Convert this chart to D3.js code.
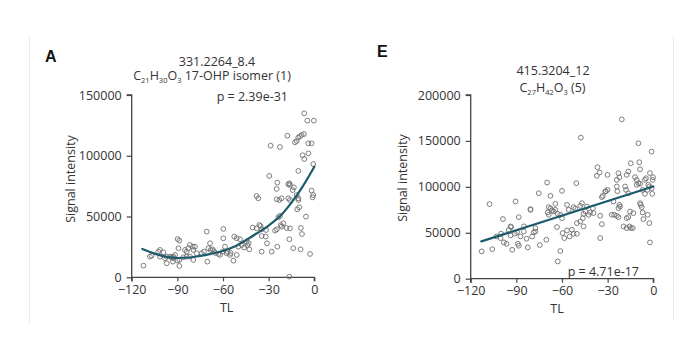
<!DOCTYPE html>
<html><head><meta charset="utf-8">
<script src="https://cdn.jsdelivr.net/npm/d3@7"></script>
<style>
body{margin:0;background:#fff;}
svg{display:block;font-family:"Open Sans",sans-serif;}
</style></head>
<body><svg id="c" width="700" height="363"></svg>
<script>
// ---------- data ----------
const xTicks = [-120, -90, -60, -30, 0];
const leftYTicks = [0, 50000, 100000, 150000];
const rightYTicks = [0, 50000, 100000, 150000, 200000];

// Panel A: 331.2264_8.4
const leftTL = [-6.6,-4.6,-0.3,-17.7,-9.4,-10.5,-8.3,-6.8,-12.7,-11.6,-3.9,-1.8,-28.7,-22.6,-7.7,-6.6,-3.9,-0.7,-10.5,-29.6,-24.3,-16.4,-16,-17.1,-24.7,-14.2,-13.4,-11.6,-10.5,-1.8,-0.7,-1.1,-37.9,-36.8,-24.7,-23,-21.5,-10.5,-17.1,-16,-5.5,-11.2,-9.9,-23.6,-22.6,-20.4,-21.5,-22.1,-25.8,-24.7,-18.2,-16,-8.8,-8.1,-36.1,-37.9,-35.3,-34.6,-31.7,-40.5,-34.6,-32,-43.1,-44,-42.7,-44.5,-34.6,-31.1,-28,-24.3,-16.4,-13.8,-9,-2.8,-16.4,-52.6,-51,-48.8,-59.8,-59.8,-58.7,-60.2,-57.6,-55.4,-63.1,-53.2,-51,-49.9,-47.7,-70.7,-68.5,-69.6,-68.1,-66.8,-70.3,-74,-72.5,-89.8,-88.7,-89.3,-85,-83.9,-82.8,-81.7,-79.9,-78.4,-79.5,-77.3,-86.1,-83.9,-81.7,-79.5,-90,-88.7,-93,-88.7,-93.7,-92.6,-94.8,-98.1,-97,-99.2,-101.4,-102.5,-106.9,-108,-112.3,-97,-101.4,-92.6,-91.5,-65,-62,-57,-55,-66,-46];
const leftSignal = [134900,128900,128900,116500,116000,115000,117100,117900,111100,112100,110200,110200,108300,107200,100400,97300,102000,93200,87500,83400,77900,77300,76000,76500,72700,71800,74000,67700,65000,71300,67700,65800,66900,65000,64200,63600,65000,63600,65000,63600,49900,55900,57600,49400,50500,44400,41700,43000,38400,39500,40600,40300,40600,35600,43000,40300,42200,39500,38900,40900,34000,33500,28000,26300,23000,29300,21100,28000,21100,25200,31300,23900,23000,19200,550,33500,32100,31300,39800,32100,25200,21100,19700,18400,19200,13700,18400,25200,26600,37600,28000,23900,22500,23000,12900,19700,21100,31500,30200,23900,22500,21100,23900,26600,25200,25200,22500,19700,16500,17000,17000,14300,13700,14300,12900,9300,16500,15600,17000,15600,17000,20600,22500,21100,17800,17000,9600,11500,17000,17000,18400,20000,18500,21000,20000,21500,24500];
const leftFitTL = [-113,-105,-97,-90,-82,-75,-68,-60,-52,-45,-38,-30,-22,-15,-8,0];
const leftFitSignal = [23300,19500,16800,15900,16300,17600,19300,21600,25500,30500,36000,42600,51000,61500,74000,91000];

// Panel E: 415.3204_12
const rightTL = [-112.8,-107.6,-105.8,-98.8,-100.4,-98.2,-96.4,-93.8,-93.8,-90.5,-88.4,-93.4,-89.5,-87.3,-89,-88.4,-92.7,-85.1,-83.3,-82.5,-80.7,-80.7,-78.5,-77.5,-79.6,-77.5,-74.6,-70.3,-68.7,-69.8,-75.3,-67.6,-69.4,-67.6,-66.5,-68.7,-65.5,-64.4,-62.8,-64.4,-63.3,-61.1,-62.8,-60,-60,-61.1,-58.5,-59.6,-56.7,-55,-53.5,-52.4,-50.2,-56.7,-55.6,-50.6,-52.4,-51.3,-47.6,-50.2,-48,-45.8,-46.3,-45.8,-44.7,-43.6,-46.9,-48,-42.5,-41.5,-37.1,-36.7,-35.3,-39.3,-39.7,-34.9,-33.8,-33.8,-33.2,-31.2,-30.1,-31.6,-34.9,-30.1,-27.3,-25.7,-24,-22.9,-26.2,-24,-22.9,-22.3,-24,-23.6,-20.7,-22.3,-21.8,-22.9,-19.6,-17.5,-18.5,-17.5,-16.4,-17.9,-16.4,-17.5,-16.4,-15.7,-14.8,-13.5,-15.3,-13.1,-10.9,-9.8,-8.7,-9.8,-8.7,-9.2,-8.7,-8.3,-7.6,-7,-6.5,-7,-5.5,-2.2,-2.6,-1.1,-3.7,-2.6,-2.2,-1.1,-0.7,-0.2,-0.4,-3.9,-3.3,-4.8,-5.5,-14.8,-12,-10.9,-103,-100,-95,-91,-85];
const rightSignal = [29700,81200,32200,64900,44200,39500,38000,47100,56900,84100,67000,56200,50700,46000,38000,35900,31500,51400,43500,34100,75000,75700,50400,51400,46000,55100,36600,42400,69600,104700,93100,90200,72100,76400,74300,77900,73200,75000,70600,81500,56200,30100,18800,95600,65900,69600,44200,49600,52500,46000,53300,48900,48900,80400,75000,104000,77900,76400,153600,60500,62300,56900,65900,70600,73200,78600,82200,79300,69600,72100,112000,121400,115600,71400,76800,44200,59400,88800,90200,95300,96700,94900,68500,113000,69600,69600,68500,67000,84100,107600,114800,110500,100400,95300,173500,80400,78600,76800,56900,55100,100400,113000,116700,96700,93100,65900,67000,56900,55100,55100,73200,71400,102200,104000,103300,147500,119200,126800,82200,80400,77900,72100,64900,96700,92400,115000,100400,98500,69600,60500,39500,138400,92400,110500,107600,96700,102200,109400,107600,125700,110500,107600,46000,49000,53000,49000,57000];
const rightFitTL = [-113, 0];
const rightFitSignal = [40600, 100400];

// ---------- drawing ----------
const svg = d3.select("#c");
const textCol = "#333";
const axisCol = "#444";

// faint frame lines
svg.append("line").attr("x1",29.5).attr("x2",29.5).attr("y1",36).attr("y2",324)
  .attr("stroke","#ececec").attr("stroke-width",1);
svg.append("line").attr("x1",673.5).attr("x2",673.5).attr("y1",36).attr("y2",320)
  .attr("stroke","#ececec").attr("stroke-width",1);

function panel(o){
  const x = d3.scaleLinear().domain([-120,0]).range([o.x0, o.x1]);
  const y = d3.scaleLinear().domain([0, o.yMax]).range([o.y0, o.y1]);
  const g = svg.append("g");

  // axes
  const ax = g.append("g").attr("transform",`translate(0,${o.y0})`)
    .call(d3.axisBottom(x).tickValues(xTicks).tickSize(4).tickPadding(2).tickFormat(d3.format("d")));
  const ay = g.append("g").attr("transform",`translate(${o.x0},0)`)
    .call(d3.axisLeft(y).tickValues(o.yTicks).tickSize(5).tickPadding(5).tickFormat(d3.format("d")));
  [ax, ay].forEach(a=>{
    a.select(".domain").attr("stroke",axisCol).attr("stroke-width",1.3);
    a.selectAll(".tick line").attr("stroke",axisCol).attr("stroke-width",1.2);
    a.selectAll(".tick text").attr("fill",textCol).style("font-size","12.5px")
      .style("font-family","'Open Sans',sans-serif");
  });
  ax.select(".domain").attr("d",`M${o.x0},4V0H${o.x1}V4`);
  ay.select(".domain").attr("d",`M-5,${o.y1}H0V${o.y0}`);
  ax.selectAll(".tick text").attr("dy","0.85em");

  // points
  g.append("g").selectAll("circle").data(o.tl.map((t,i)=>[t,o.sig[i]])).join("circle")
    .attr("cx",d=>x(d[0])).attr("cy",d=>y(d[1])).attr("r",2.4)
    .attr("fill","none").attr("stroke","#6f6f6f").attr("stroke-width",0.9);

  // fit line
  const line = d3.line().x(d=>x(d[0])).y(d=>y(d[1])).curve(d3.curveMonotoneX);
  g.append("path").datum(o.fitX.map((t,i)=>[t,o.fitY[i]])).attr("d",line)
    .attr("fill","none").attr("stroke","#1c5a6c").attr("stroke-width",2.2)
    .attr("stroke-linecap","round");

  // axis titles
  g.append("text").attr("x",o.tlX).attr("y",o.tlY).attr("text-anchor","middle")
    .attr("fill",textCol).style("font-size","12.5px").text("TL");
  g.append("text").attr("transform",`translate(${o.sigX},${o.sigY}) rotate(-90)`)
    .attr("text-anchor","middle").attr("fill",textCol).style("font-size","12.5px")
    .text("Signal intensity");

  // panel letter
  g.append("text").attr("x",o.letX).attr("y",o.letY).attr("fill","#111")
    .style("font-family","'Liberation Sans',Arial,sans-serif").style("font-weight","bold")
    .style("font-size","16px").text(o.letter);

  // titles
  g.append("text").attr("x",o.t1X).attr("y",o.t1Y).attr("text-anchor","middle")
    .attr("fill",textCol).style("font-size","12.5px").text(o.title1);
  const t2 = g.append("text").attr("x",o.t2X).attr("y",o.t2Y).attr("text-anchor","middle")
    .attr("fill",textCol).style("font-size","12.5px");
  o.title2.forEach(p=>{
    const ts = t2.append("tspan").text(p[0]);
    if(p[1]==="sub") ts.style("font-size","7.5px").attr("dy",3);
    else if(p[1]==="up") ts.attr("dy",-3);
  });
  // p value
  g.append("text").attr("x",o.pX).attr("y",o.pY).attr("text-anchor","end")
    .attr("fill",textCol).style("font-size","12.5px").text(o.pText);
}

panel({
  x0:131.7, x1:314.3, y0:277.3, y1:95, yMax:150000, yTicks:leftYTicks,
  tl:leftTL, sig:leftSignal, fitX:leftFitTL, fitY:leftFitSignal,
  tlX:226.7, tlY:311.5, sigX:75, sigY:179,
  letter:"A", letX:45, letY:62,
  title1:"331.2264_8.4", t1X:217, t1Y:66,
  title2:[["C"],["21","sub"],["H","up"],["30","sub"],["O","up"],["3","sub"],[" 17-OHP isomer (1)","up"]],
  t2X:212, t2Y:80,
  pText:"p = 2.39e-31", pX:288, pY:100.7
});
panel({
  x0:470.7, x1:653.3, y0:278.7, y1:95, yMax:200000, yTicks:rightYTicks,
  tl:rightTL, sig:rightSignal, fitX:rightFitTL, fitY:rightFitSignal,
  tlX:557, tlY:313, sigX:407, sigY:178,
  letter:"E", letX:377, letY:57,
  title1:"415.3204_12", t1X:553, t1Y:75,
  title2:[["C"],["27","sub"],["H","up"],["42","sub"],["O","up"],["3","sub"],[" (5)","up"]],
  t2X:552.5, t2Y:91.7,
  pText:"p = 4.71e-17", pX:639, pY:276
});
</script></body></html>
